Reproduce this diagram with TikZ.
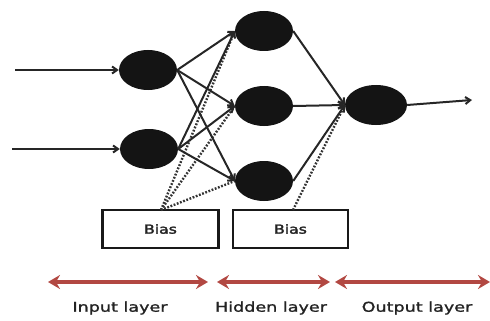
\documentclass[tikz,border=0pt]{standalone}
\usepackage{fontspec}
\setmainfont{DejaVu Sans}[FakeBold=1.2]
\usetikzlibrary{arrows.meta,shapes.geometric}
\definecolor{spanred}{RGB}{178,72,66}
\definecolor{lbltext}{RGB}{35,35,35}
\begin{document}
\begin{tikzpicture}[x=1pt,y=-1pt,
  neuron/.style={ellipse,fill=black!92,minimum width=58pt,minimum height=40pt,inner sep=0pt},
  conn/.style={draw=black!85,line width=2pt,-{Straight Barb[length=5pt,width=7pt]}},
  biasline/.style={draw=black!80,line width=2.4pt,dash pattern=on 1.8pt off 1.6pt},
  biasbox/.style={draw=black!90,line width=2.2pt,minimum width=116pt,minimum height=38pt,inner sep=0pt,font=\fontsize{12.5}{14}\selectfont\addfontfeature{FakeBold=2.2},text=lbltext},
  span/.style={draw=spanred,line width=3.2pt,{Stealth[length=12pt,width=14pt,inset=4pt]}-{Stealth[length=12pt,width=14pt,inset=4pt]}},
  lbl/.style={font=\fontsize{13.5}{15}\selectfont,text=lbltext}]
\useasboundingbox (0,0) rectangle (490,321);
\node[neuron] (i1) at (148,70) {};
\node[neuron] (i2) at (149,149) {};
\node[neuron] (h1) at (264,31) {};
\node[neuron] (h2) at (264,106) {};
\node[neuron] (h3) at (264,181) {};
\node[neuron,minimum width=62pt] (o) at (376,105) {};
\coordinate (in1) at (15,70);
\coordinate (in2) at (12,149);
\coordinate (out) at (472,100);
\node[biasbox] (b1) at (160.5,229) {\scalebox{1.25}[1]{Bias}};
\node[biasbox,minimum width=115pt] (b2) at (290.5,229) {\scalebox{1.25}[1]{Bias}};
\coordinate (b1t) at (161,210);
\coordinate (b2t) at (293,210);
% bias dotted lines
\draw[biasline] (b1t) -- (h1.west);
\draw[biasline] (b1t) -- (h2.west);
\draw[biasline] (b1t) -- (h3.west);
\draw[biasline] (b2t) -- (o.west);
% inputs
\draw[conn] (in1) -- (i1.west);
\draw[conn] (in2) -- (i2.west);
\draw[conn] (o.east) -- (out);
% input to hidden
\foreach \a in {i1,i2}{
  \foreach \b in {h1,h2,h3}{
    \draw[conn] (\a.east) -- (\b.west);
  }
}
\foreach \b in {h1,h2,h3}{
  \draw[conn] (\b.east) -- (o.west);
}
% layer spans
\coordinate (s1a) at (48,282);
\coordinate (s1b) at (208,282);
\coordinate (s2a) at (217,282);
\coordinate (s2b) at (330,282);
\coordinate (s3a) at (335,282);
\coordinate (s3b) at (490,282);
\draw[span] (s1a) -- (s1b);
\draw[span] (s2a) -- (s2b);
\draw[span] (s3a) -- (s3b);
\node[lbl] (l1) at (120,308) {\scalebox{1.3}[1]{Input layer}};
\node[lbl] (l2) at (271,308) {\scalebox{1.3}[1]{Hidden layer}};
\node[lbl] (l3) at (417,308) {\scalebox{1.3}[1]{Output layer}};
\end{tikzpicture}
\end{document}
